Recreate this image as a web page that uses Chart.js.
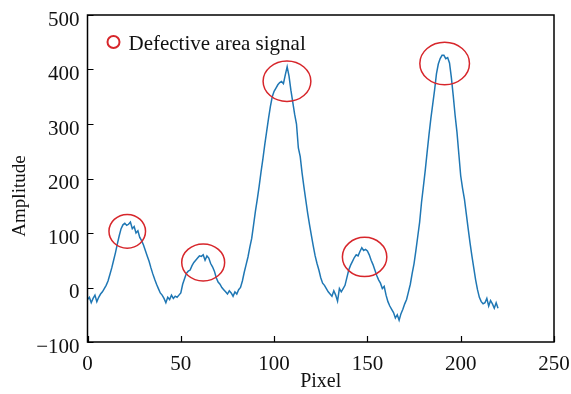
<!doctype html>
<html>
<head>
	<title>Amplitude vs Pixel</title>
	<script src="https://cdn.jsdelivr.net/npm/chart.js@4"></script>
	<style>
		body { margin: 0; background: #fff; }
	</style>
</head>
<body>
	<canvas id="chart-area" width="571" height="394"></canvas>
	<script>
		// signal amplitude, one value per pixel (0..220)
		var amplitude = [
			-22, -18, -28, -20, -14, -26, -18, -12, -8, -2,
			4, 12, 24, 36, 50, 64, 80, 95, 108, 115,
			118, 114, 116, 120, 108, 112, 100, 104, 92, 86,
			78, 68, 58, 48, 36, 25, 15, 6, -2, -10,
			-14, -20, -28, -18, -22, -14, -20, -16, -18, -14,
			-10, 6, 16, 26, 30, 32, 40, 46, 50, 54,
			58, 57, 60, 50, 58, 54, 44, 38, 30, 18,
			10, 6, 0, -4, -8, -12, -6, -10, -16, -8,
			-12, -4, 0, 12, 28, 42, 56, 74, 90, 115,
			140, 162, 186, 212, 236, 262, 286, 310, 332, 350,
			360, 366, 372, 376, 378, 374, 390, 405, 388, 362,
			340, 318, 300, 256, 240, 210, 184, 160, 136, 115,
			95, 76, 58, 44, 32, 18, 8, 4, -2, -8,
			-12, -16, -6, -14, -25, -2, -8, -2, 4, 18,
			32, 41, 48, 55, 60, 58, 66, 73, 68, 70,
			67, 60, 50, 42, 32, 22, 14, 8, -2, 2,
			-14, -26, -34, -40, -46, -56, -50, -60, -48, -40,
			-30, -22, -8, 6, 26, 44, 68, 94, 120, 156,
			185, 215, 248, 280, 310, 336, 362, 392, 410, 420,
			426, 426, 420, 422, 412, 385, 352, 316, 285, 245,
			205, 182, 162, 135, 108, 82, 58, 36, 14, -4,
			-18, -26, -30, -28, -20, -34, -24, -30, -38, -28,
			-38
		];

		// defective areas circled on the plot (centre and half-size in data units)
		var defectX = [21.3, 62, 106.9, 148.5, 191.4];
		var defectY = [103, 46, 378.5, 56, 411];
		var defectHalfW = [9.8, 11.5, 12.8, 11.9, 13.3];
		var defectHalfH = [31, 34, 37, 36, 39];

		var legendText = 'Defective area signal';
		var xTitle = 'Pixel';
		var yTitle = 'Amplitude';

		var points = amplitude.map(function(v, i) { return { x: i, y: v }; });

		var serif = 'Liberation Serif';

		var overlay = {
			id: 'overlay',
			afterDraw: function(chart) {
				var ctx = chart.ctx;
				var a = chart.chartArea;
				var xs = chart.scales.x;
				var ys = chart.scales.y;
				ctx.save();

				// box round the plot
				ctx.strokeStyle = '#000';
				ctx.lineWidth = 1.5;
				ctx.strokeRect(a.left, a.top, a.right - a.left, a.bottom - a.top);

				// ticks pointing inward
				ctx.lineWidth = 1.2;
				ctx.beginPath();
				xs.ticks.forEach(function(t) {
					var px = Math.round(xs.getPixelForValue(t.value)) + 0.5;
					ctx.moveTo(px, a.bottom);
					ctx.lineTo(px, a.bottom - 6);
				});
				ys.ticks.forEach(function(t) {
					var py = Math.round(ys.getPixelForValue(t.value)) + 0.5;
					ctx.moveTo(a.left, py);
					ctx.lineTo(a.left + 6, py);
				});
				ctx.stroke();

				// red ellipses
				ctx.strokeStyle = '#d7262b';
				ctx.lineWidth = 1.5;
				defectX.forEach(function(cx, i) {
					var px = xs.getPixelForValue(cx);
					var py = ys.getPixelForValue(defectY[i]);
					var rx = Math.abs(xs.getPixelForValue(cx + defectHalfW[i]) - px);
					var ry = Math.abs(ys.getPixelForValue(defectY[i] + defectHalfH[i]) - py);
					ctx.beginPath();
					ctx.ellipse(px, py, rx, ry, 0, 0, Math.PI * 2);
					ctx.stroke();
				});

				// legend
				ctx.lineWidth = 2;
				ctx.beginPath();
				ctx.arc(a.left + 26, a.top + 27, 6, 0, Math.PI * 2);
				ctx.stroke();
				ctx.fillStyle = '#111';
				ctx.font = '21px "' + serif + '"';
				ctx.textBaseline = 'alphabetic';
				ctx.textAlign = 'left';
				ctx.fillText(legendText, a.left + 41, a.top + 35);

				// y axis title, a little below the middle as in the original
				ctx.font = '19px "' + serif + '"';
				ctx.textAlign = 'center';
				ctx.textBaseline = 'middle';
				ctx.translate(20, 196);
				ctx.rotate(-Math.PI / 2);
				ctx.fillText(yTitle, 0, 0);
				ctx.restore();
			}
		};

		var config = {
			type: 'line',
			data: {
				datasets: [{
					label: 'Amplitude',
					data: points,
					borderColor: '#1f77b4',
					borderWidth: 1.5,
					pointRadius: 0,
					fill: false,
					tension: 0
				}]
			},
			options: {
				responsive: false,
				animation: false,
				layout: { padding: { left: 0, right: 17, top: 15, bottom: 0 } },
				plugins: {
					legend: { display: false },
					tooltip: { enabled: false }
				},
				scales: {
					x: {
						type: 'linear',
						min: 0,
						max: 250,
						ticks: {
							stepSize: 50,
							padding: 10,
							color: '#111',
							font: { family: serif, size: 21 }
						},
						grid: { display: false, drawTicks: false },
						border: { display: false },
						title: {
							display: true,
							text: xTitle,
							color: '#111',
							padding: 0,
							font: { family: serif, size: 20 }
						},
						afterFit: function(s) {
							s.height = 52;
							s.paddingLeft = 0;
							s.paddingRight = 0;
						}
					},
					y: {
						min: -100,
						max: 500,
						ticks: {
							stepSize: 100,
							padding: 8,
							labelOffset: 5,
							color: '#111',
							font: { family: serif, size: 21 },
							callback: function(v) { return v < 0 ? '\u2212' + Math.abs(v) : '' + v; }
						},
						grid: { display: false, drawTicks: false },
						border: { display: false },
						afterFit: function(s) {
							s.width = 87.5;
							s.paddingTop = 0;
							s.paddingBottom = 0;
						}
					}
				}
			},
			plugins: [overlay]
		};

		window.onload = function() {
			var ctx = document.getElementById('chart-area').getContext('2d');
			window.myChart = new Chart(ctx, config);
		};
	</script>
</body>
</html>
